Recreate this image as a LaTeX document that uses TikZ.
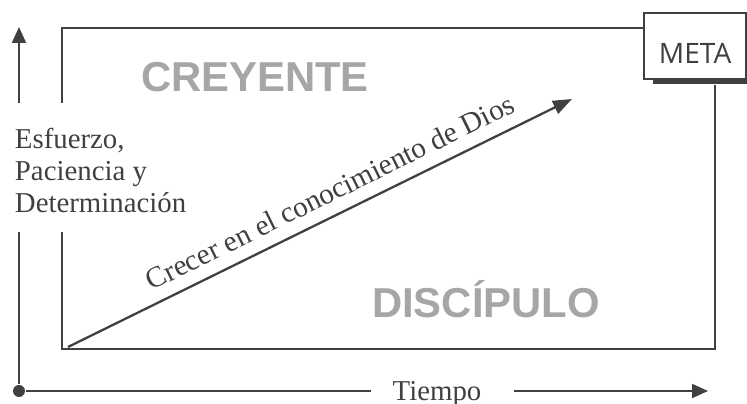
\documentclass[tikz,border=0pt]{standalone}
\usepackage{fontspec}
\setmainfont{Liberation Serif}
\newfontfamily\arialf{Liberation Sans}
\newfontfamily\metaf{Open Sans}
\usetikzlibrary{arrows.meta,shadows}

\definecolor{linea}{HTML}{404040}
\definecolor{gris}{HTML}{A6A6A6}

\begin{document}
\begin{tikzpicture}[color=linea, line width=1.1pt,
  >={Triangle[length=0.32cm,width=0.28cm]},
  texto/.style={font=\fontsize{16.4}{18.2}\selectfont, inner sep=0pt},
  titulo/.style={font=\arialf\bfseries\fontsize{23.8}{28}\selectfont, text=gris, inner sep=0pt},
  marco/.style={line width=1.3pt},
  meta/.style={draw, fill=white, line width=1.3pt, anchor=north west, inner sep=0pt,
    minimum width=2.04cm, text height=1.0cm, text depth=0.32cm,
    font=\metaf\fontsize{16}{19}\selectfont,
    drop shadow={shadow xshift=0.18cm, shadow yshift=-0.1cm, fill=linea, opacity=1}},
  punto/.style={circle, fill=linea, inner sep=0pt, minimum size=0.24cm}]
\useasboundingbox (0,0) rectangle (14.94,8.08);

% Ejes y esquinas del marco
\node[punto] (O) at (0.38,0.26) {};
\coordinate (ytip) at (0.38,7.54);
\coordinate (xtip) at (14.16,0.26);
\coordinate (bl) at (1.24,1.10);
\coordinate (br) at (14.30,1.10);
\coordinate (tl) at (1.24,7.52);

% Textos de los ejes
\node[texto, anchor=north west, align=left] (esf) at (0.28,5.54) {Esfuerzo,\\Paciencia y\\Determinación};
\node[texto, anchor=base] (tiempo) at (8.74,0.06) {Tiempo};
\coordinate (gaparriba) at ([yshift=0.48cm]esf.north);
\coordinate (gapabajo) at ([yshift=-0.38cm]esf.south);
\coordinate (ti) at ([xshift=-0.42cm]tiempo.west);
\coordinate (td) at ([xshift=0.64cm]tiempo.east);

% Eje vertical
\draw (O) -- (O |- gapabajo);
\draw[->] (O |- gaparriba) -- (ytip);
% Eje horizontal
\draw (O) -- (O -| ti);
\draw[->] (O -| td) -- (xtip);

% Meta
\node[meta] (meta) at (12.86,7.84) {META};

% Marco
\draw[marco] (bl |- gapabajo) -- (bl) -- (br) -- ([yshift=-0.1cm]br |- meta.south);
\draw[marco] (tl |- gaparriba) -- (tl) -- (tl -| meta.west);

% Zonas
\node[titulo, anchor=base] (creyente) at (5.10,6.24) {CREYENTE};
\node[titulo, anchor=base] (discipulo) at (9.72,1.72) {DISCÍPULO};

% Crecimiento
\coordinate (ini) at (1.36,1.14);
\coordinate (fin) at (11.44,6.10);
\draw[->, line width=1.3pt, >={Triangle[length=0.38cm,width=0.28cm]}] (ini) -- (fin)
  node[texto, font=\fontsize{16.7}{18}\selectfont, pos=0.54, sloped, above=0.24cm] {Crecer en el conocimiento de Dios};

\end{tikzpicture}
\end{document}
